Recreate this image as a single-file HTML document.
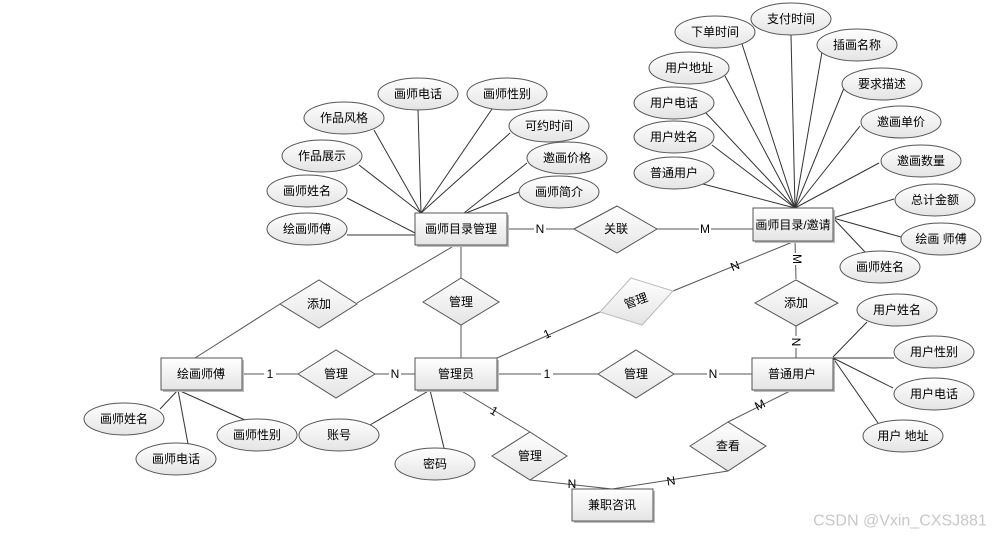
<!DOCTYPE html>
<html><head><meta charset="utf-8"><style>
html,body{margin:0;padding:0;background:#fff;}
svg{display:block;font-family:"Liberation Sans","Noto Sans CJK SC",sans-serif;}
text{font-size:12px;fill:#000;text-anchor:middle;dominant-baseline:central;}
.l{stroke:#333;stroke-width:1;fill:none;}
.g{stroke:#555;stroke-width:1;fill:none;}
.s{fill:url(#gr);stroke:#555;stroke-width:1;}
.lab{font-size:11px;}
</style></head><body>
<svg width="1003" height="540" viewBox="0 0 1003 540">
<defs>
<linearGradient id="gr" x1="0" y1="0" x2="0" y2="1"><stop offset="0" stop-color="#ffffff"/><stop offset="1" stop-color="#e4e4e4"/></linearGradient>
</defs>
<g class="l">
<line x1="418" y1="110" x2="421" y2="213"/>
<line x1="492" y1="109" x2="421" y2="213"/>
<line x1="374" y1="130" x2="421" y2="213"/>
<line x1="510" y1="133" x2="421" y2="213"/>
<line x1="359" y1="165" x2="421" y2="213"/>
<line x1="527" y1="163" x2="464" y2="213"/>
<line x1="347" y1="198" x2="415" y2="233"/>
<line x1="519" y1="192" x2="466" y2="213"/>
<line x1="347" y1="235" x2="415" y2="235"/>
<line x1="791" y1="35" x2="795" y2="208"/>
<line x1="742" y1="44" x2="795" y2="208"/>
<line x1="822" y1="52" x2="795" y2="208"/>
<line x1="725" y1="76" x2="795" y2="208"/>
<line x1="844" y1="88" x2="795" y2="208"/>
<line x1="706" y1="113" x2="795" y2="208"/>
<line x1="860" y1="126" x2="795" y2="208"/>
<line x1="712" y1="145" x2="795" y2="208"/>
<line x1="879" y1="163" x2="795" y2="208"/>
<line x1="703" y1="184" x2="795" y2="208"/>
<line x1="894" y1="199" x2="833" y2="218"/>
<line x1="901" y1="237" x2="833" y2="218"/>
<line x1="865" y1="252" x2="833" y2="218"/>
<line x1="178" y1="390" x2="160" y2="409"/>
<line x1="178" y1="390" x2="188" y2="444"/>
<line x1="178" y1="390" x2="245" y2="420"/>
<line x1="370" y1="425" x2="430" y2="390"/>
<line x1="444" y1="448" x2="430" y2="390"/>
<line x1="833" y1="357" x2="867" y2="322"/>
<line x1="833" y1="358" x2="894" y2="358"/>
<line x1="833" y1="358" x2="893" y2="388"/>
<line x1="833" y1="358" x2="878" y2="423"/>
</g>
<g class="g">
<line x1="507" y1="229" x2="574" y2="229"/>
<line x1="657" y1="229" x2="753" y2="229"/>
<line x1="461" y1="245" x2="461" y2="278"/>
<line x1="461" y1="325" x2="461" y2="358"/>
<line x1="452" y1="247" x2="357" y2="303"/>
<line x1="280" y1="304" x2="195" y2="358"/>
<line x1="242" y1="374" x2="298" y2="374"/>
<line x1="375" y1="374" x2="415" y2="374"/>
<line x1="497" y1="374" x2="598" y2="374"/>
<line x1="674" y1="374" x2="752" y2="374"/>
<line x1="497" y1="358" x2="600" y2="312"/>
<line x1="673" y1="291" x2="795" y2="241"/>
<line x1="795" y1="241" x2="796" y2="279"/>
<line x1="796" y1="326" x2="796" y2="358"/>
<line x1="460" y1="390" x2="530" y2="432"/>
<line x1="530" y1="480" x2="612" y2="489"/>
<line x1="612" y1="489" x2="728" y2="471"/>
<line x1="728" y1="422" x2="792" y2="390"/>
</g>
<g class="lab">
<rect x="534" y="222" width="12" height="14" fill="#fff"/><text x="540" y="229">N</text>
<rect x="699" y="222" width="12" height="14" fill="#fff"/><text x="705" y="229">M</text>
<rect x="264" y="367" width="12" height="14" fill="#fff"/><text x="270" y="374">1</text>
<rect x="389" y="367" width="12" height="14" fill="#fff"/><text x="395" y="374">N</text>
<rect x="541" y="367" width="12" height="14" fill="#fff"/><text x="547" y="374">1</text>
<rect x="707" y="367" width="12" height="14" fill="#fff"/><text x="713" y="374">N</text>
<text x="547" y="334" transform="rotate(-24 547 334)">1</text>
<text x="735" y="266" transform="rotate(-22 735 266)">N</text>
<rect x="791" y="253" width="12" height="12" fill="#fff"/><text x="797" y="259" transform="rotate(90 797 259)">M</text>
<rect x="790" y="336" width="12" height="12" fill="#fff"/><text x="796" y="342" transform="rotate(90 796 342)">N</text>
<text x="494" y="411" transform="rotate(31 494 411)">1</text>
<text x="572" y="484">N</text>
<text x="671" y="481" transform="rotate(-9 671 481)">N</text>
<text x="760" y="405" transform="rotate(-26 760 405)">M</text>
</g>
<g>
<rect x="417" y="215" width="92" height="32" fill="#bbb"/>
<rect x="415" y="213" width="92" height="32" class="s"/><text x="461" y="229">画师目录管理</text>
<rect x="755" y="210" width="80" height="33" fill="#bbb"/>
<rect x="753" y="208" width="80" height="33" class="s"/><text x="793" y="225">画师目录/邀请</text>
<rect x="163" y="360" width="81" height="32" fill="#bbb"/>
<rect x="161" y="358" width="81" height="32" class="s"/><text x="201" y="374">绘画师傅</text>
<rect x="417" y="360" width="82" height="32" fill="#bbb"/>
<rect x="415" y="358" width="82" height="32" class="s"/><text x="456" y="374">管理员</text>
<rect x="754" y="360" width="81" height="32" fill="#bbb"/>
<rect x="752" y="358" width="81" height="32" class="s"/><text x="792" y="374">普通用户</text>
<rect x="574" y="491" width="81" height="32" fill="#bbb"/>
<rect x="572" y="489" width="81" height="32" class="s"/><text x="612" y="505">兼职咨讯</text>
</g>
<g>
<polygon points="574,229 617,206 657,229 617,253" class="s"/><text x="616" y="229">关联</text>
<polygon points="280,304 319,280 357,304 319,328" class="s"/><text x="319" y="304">添加</text>
<polygon points="423,302 461,278 499,302 461,325" class="s"/><text x="461" y="302">管理</text>
<polygon points="298,374 336,350 375,374 336,398" class="s"/><text x="336" y="374">管理</text>
<polygon points="492,456 530,432 567,456 530,480" class="s"/><text x="530" y="456">管理</text>
<polygon points="600,312 631,278 673,291 642,325" fill="url(#gr)" stroke="#bbb"/><text x="636" y="301" transform="rotate(-20 636 301)">管理</text>
<polygon points="598,374 636,350 674,374 636,398" class="s"/><text x="636" y="374">管理</text>
<polygon points="755,303 796,280 838,303 796,326" class="s"/><text x="796" y="303">添加</text>
<polygon points="690,446 728,422 766,446 728,471" class="s"/><text x="728" y="446">查看</text>
</g>
<g>
<ellipse cx="418" cy="94" rx="40" ry="16" class="s"/><text x="418" y="94">画师电话</text>
<ellipse cx="507" cy="94" rx="40" ry="16" class="s"/><text x="507" y="94">画师性别</text>
<ellipse cx="344" cy="118" rx="40" ry="16" class="s"/><text x="344" y="118">作品风格</text>
<ellipse cx="549" cy="126" rx="40" ry="16" class="s"/><text x="549" y="126">可约时间</text>
<ellipse cx="322" cy="156" rx="40" ry="16" class="s"/><text x="322" y="156">作品展示</text>
<ellipse cx="567" cy="158" rx="40" ry="16" class="s"/><text x="567" y="158">邀画价格</text>
<ellipse cx="307" cy="191" rx="40" ry="16" class="s"/><text x="307" y="191">画师姓名</text>
<ellipse cx="559" cy="192" rx="40" ry="16" class="s"/><text x="559" y="192">画师简介</text>
<ellipse cx="307" cy="229" rx="40" ry="16" class="s"/><text x="307" y="229">绘画师傅</text>
<ellipse cx="791" cy="19" rx="40" ry="16" class="s"/><text x="791" y="19">支付时间</text>
<ellipse cx="715" cy="32" rx="40" ry="16" class="s"/><text x="715" y="32">下单时间</text>
<ellipse cx="857" cy="45" rx="40" ry="16" class="s"/><text x="857" y="45">插画名称</text>
<ellipse cx="689" cy="68" rx="40" ry="16" class="s"/><text x="689" y="68">用户地址</text>
<ellipse cx="882" cy="84" rx="40" ry="16" class="s"/><text x="882" y="84">要求描述</text>
<ellipse cx="674" cy="103" rx="40" ry="16" class="s"/><text x="674" y="103">用户电话</text>
<ellipse cx="901" cy="122" rx="40" ry="16" class="s"/><text x="901" y="122">邀画单价</text>
<ellipse cx="674" cy="137" rx="40" ry="16" class="s"/><text x="674" y="137">用户姓名</text>
<ellipse cx="921" cy="161" rx="40" ry="16" class="s"/><text x="921" y="161">邀画数量</text>
<ellipse cx="674" cy="173" rx="40" ry="16" class="s"/><text x="674" y="173">普通用户</text>
<ellipse cx="935" cy="200" rx="40" ry="16" class="s"/><text x="935" y="200">总计金额</text>
<ellipse cx="941" cy="239" rx="40" ry="16" class="s"/><text x="941" y="239">绘画 师傅</text>
<ellipse cx="880" cy="267" rx="40" ry="16" class="s"/><text x="880" y="267">画师姓名</text>
<ellipse cx="124" cy="419" rx="40" ry="16" class="s"/><text x="124" y="419">画师姓名</text>
<ellipse cx="176" cy="459" rx="40" ry="16" class="s"/><text x="176" y="459">画师电话</text>
<ellipse cx="257" cy="435" rx="40" ry="16" class="s"/><text x="257" y="435">画师性别</text>
<ellipse cx="339" cy="435" rx="40" ry="16" class="s"/><text x="339" y="435">账号</text>
<ellipse cx="435" cy="464" rx="40" ry="16" class="s"/><text x="435" y="464">密码</text>
<ellipse cx="897" cy="310" rx="40" ry="16" class="s"/><text x="897" y="310">用户姓名</text>
<ellipse cx="934" cy="352" rx="40" ry="16" class="s"/><text x="934" y="352">用户性别</text>
<ellipse cx="934" cy="394" rx="40" ry="16" class="s"/><text x="934" y="394">用户电话</text>
<ellipse cx="903" cy="436" rx="40" ry="16" class="s"/><text x="903" y="436">用户 地址</text>
</g>
<text x="900" y="521" style="font-size:16px;fill:#c8c8c8;">CSDN @Vxin_CXSJ881</text>
</svg>
</body></html>
